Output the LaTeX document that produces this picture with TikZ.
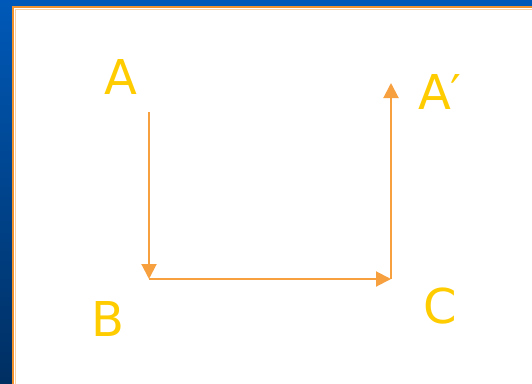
\documentclass[tikz,border=0pt]{standalone}
\usepackage{fontspec}
\setmainfont{DejaVu Sans}
\usetikzlibrary{arrows.meta}
\definecolor{bgtop}{HTML}{0059B8}
\definecolor{bgbot}{HTML}{002F62}
\definecolor{frameor}{HTML}{F0922E}
\definecolor{framelt}{HTML}{FAD0A0}
\definecolor{lineor}{HTML}{F7A040}
\definecolor{txtyel}{HTML}{FFCC00}
\tikzset{
  lbl/.style={text=txtyel, font=\fontsize{48}{48}\selectfont, inner sep=0pt, anchor=base},
  conn/.style={draw=lineor, line width=2pt, -{Triangle[length=15pt,width=15pt]}},
  seg/.style={draw=lineor, line width=2pt}
}
\begin{document}
\begin{tikzpicture}[x=1pt,y=-1pt]
\useasboundingbox (0,0) rectangle (532,383);
\shade[top color=bgtop, bottom color=bgbot] (0,0) rectangle (532,383);
\fill[white] (13,7) rectangle (540,390);
\draw[framelt, line width=1pt] (15,9) -- (15,390);
\draw[framelt, line width=1pt] (15,9) -- (540,9);
\draw[frameor, line width=2pt] (13,390) -- (13,7) -- (540,7);
% labels
\node[lbl] (A) at (121,94) {A};
\node[lbl] (B) at (108,336) {B};
\node[lbl] (C) at (440,323) {C};
\node[lbl] (Ap) at (440,109) {A′};
% path coordinates
\coordinate (p1) at (149,112);
\coordinate (p2) at (149,279);
\coordinate (p3) at (391,279);
\coordinate (p4) at (391,83);
\draw[conn] (p1) -- (p2);
\draw[conn] (p2) -- (p3);
\draw[conn] (p3) -- (p4);
\end{tikzpicture}
\end{document}
